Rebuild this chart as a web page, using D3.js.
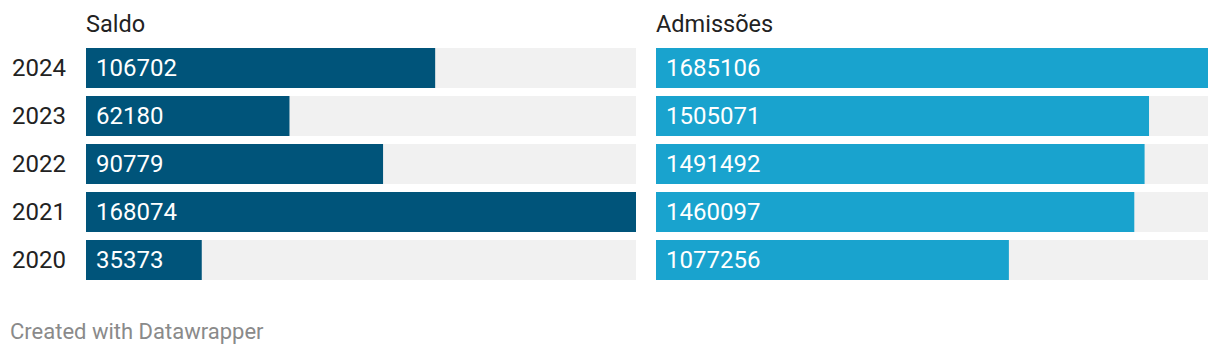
<!DOCTYPE html>
<html><head><meta charset="utf-8">
<script src="https://cdn.jsdelivr.net/npm/d3@7"></script>
<style>body{margin:0;background:#fff;font-family:Roboto,sans-serif;}</style>
</head><body>
<svg id="chart" width="1220" height="356"></svg>
<script>
const years = ["2024","2023","2022","2021","2020"];
const saldo = [106702, 62180, 90779, 168074, 35373];
const admissoes = [1685106, 1505071, 1491492, 1460097, 1077256];
const panelTitles = ["Saldo","Admissões"];
const panelColors = ["#00547a","#19a3ce"];

const svg = d3.select("#chart");
const yB = d3.scaleBand().domain(years).range([48, 48+48*5-8]).paddingInner(8/48).paddingOuter(0);

svg.selectAll("text.year").data(years).join("text")
  .attr("class","year").attr("x",12).attr("y",d=>yB(d)+yB.bandwidth()/2)
  .attr("dy","0.35em").attr("font-size",24).attr("fill","#222").text(d=>d);

const panels = [
  {title:panelTitles[0], values:saldo, x0:86, x1:636, color:panelColors[0]},
  {title:panelTitles[1], values:admissoes, x0:656, x1:1208, color:panelColors[1]}
];
panels.forEach(p=>{
  const x = d3.scaleLinear().domain([0, d3.max(p.values)]).range([p.x0, p.x1]);
  const g = svg.append("g");
  g.append("text").attr("x",p.x0).attr("y",32).attr("font-size",23.5).attr("fill","#222").text(p.title);
  g.selectAll("rect.bg").data(years).join("rect").attr("class","bg")
    .attr("x",p.x0).attr("y",d=>yB(d)).attr("width",p.x1-p.x0).attr("height",yB.bandwidth()).attr("fill","#f1f1f1");
  g.selectAll("rect.bar").data(p.values).join("rect").attr("class","bar")
    .attr("x",p.x0).attr("y",(d,i)=>yB(years[i])).attr("width",d=>x(d)-p.x0).attr("height",yB.bandwidth()).attr("fill",p.color);
  g.selectAll("text.val").data(p.values).join("text").attr("class","val")
    .attr("x",p.x0+10).attr("y",(d,i)=>yB(years[i])+yB.bandwidth()/2).attr("dy","0.35em")
    .attr("font-size",24).attr("fill","#fff").text(d=>d);
});

svg.append("text").attr("x",10).attr("y",339).attr("font-size",22).attr("fill","#8a8a8a").text("Created with Datawrapper");
</script>
</body></html>
